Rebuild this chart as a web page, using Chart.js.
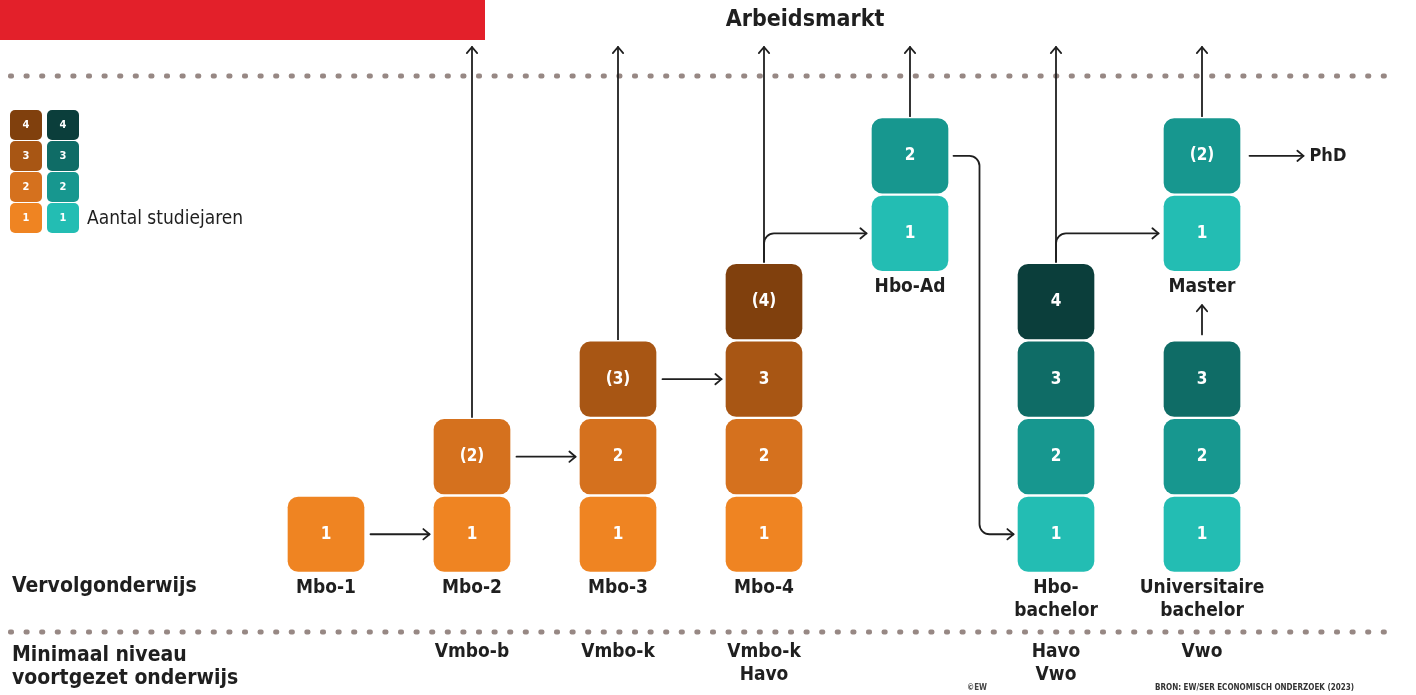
<!DOCTYPE html>
<html lang="nl">
<head>
  <meta charset="UTF-8" />
  <title>Van vmbo tot PhD</title>
  <script src="https://cdn.jsdelivr.net/npm/chart.js"></script>
  <style>
    html, body { margin: 0; padding: 0; background: #fff; }
    #wrap { position: relative; width: 1416px; height: 695px; }
  </style>
</head>
<body>
  <div id="wrap"><canvas id="grafiek"></canvas></div>

  <script>
    // === GEGEVENS ===
    const kolommen = ['Mbo-1', 'Mbo-2', 'Mbo-3', 'Mbo-4', 'Hbo-Ad', 'Hbo-bachelor', 'Universitaire bachelor'];
    const opleidingen = ['Mbo-1', 'Mbo-2', 'Mbo-3', 'Mbo-4', 'Hbo-Ad', 'Hbo-bachelor', 'Universitaire bachelor', 'Master'];
    const opleidingKolom = [0, 1, 2, 3, 4, 5, 6, 6];
    const startNiveau = [0, 0, 0, 0, 3.88, 0, 0, 3.88];
    const aantalJaren = [1, 2, 3, 4, 2, 4, 3, 2];
    const jaarLabels = [['1'], ['1', '(2)'], ['1', '2', '(3)'], ['1', '2', '3', '(4)'], ['1', '2'], ['1', '2', '3', '4'], ['1', '2', '3'], ['1', '(2)']];
    const soort = ['mbo', 'mbo', 'mbo', 'mbo', 'hbo', 'hbo', 'hbo', 'hbo'];
    const naamLabels = [['Mbo-1'], ['Mbo-2'], ['Mbo-3'], ['Mbo-4'], ['Hbo-Ad'], ['Hbo-', 'bachelor'], ['Universitaire', 'bachelor'], ['Master']];
    const vooropleiding = [[], ['Vmbo-b'], ['Vmbo-k'], ['Vmbo-k', 'Havo'], [], ['Havo', 'Vwo'], ['Vwo']];

    const kleuren = {
      mbo: ['#EF8422', '#D5711E', '#A85614', '#80400D'],
      hbo: ['#23BDB3', '#17978F', '#0F6C66', '#0B3E3B']
    };

    const FONT = "'Liberation Sans Narrow', 'DejaVu Sans Condensed', Roboto, sans-serif";
    const DONKER = '#1f1f1f';
    const HALF = 39.5; // halve blokbreedte

    // === DATASETS: één blok per studiejaar ===
    const datasets = [];
    opleidingen.forEach((opl, o) => {
      for (let j = 0; j < aantalJaren[o]; j++) {
        datasets.push({
          label: opl + ' jaar ' + (j + 1),
          data: [{ x: kolommen[opleidingKolom[o]], y: [startNiveau[o] + j, startNiveau[o] + j + 1] }],
          backgroundColor: kleuren[soort[o]][j],
          borderColor: '#ffffff',
          borderWidth: 1.5,
          borderRadius: 12,
          borderSkipped: false,
          barThickness: HALF * 2,
          tekst: jaarLabels[o][j]
        });
      }
    });

    function stippellijn(ctx, y) {
      ctx.save();
      ctx.fillStyle = '#978884';
      for (let x = 8; x < 1390; x += 15.6) {
        ctx.beginPath();
        ctx.roundRect(x, y - 2.5, 6, 5, 2);
        ctx.fill();
      }
      ctx.restore();
    }

    function pijl(ctx, punten, r = 10) {
      ctx.save();
      ctx.strokeStyle = DONKER;
      ctx.lineWidth = 1.8;
      ctx.lineCap = 'round';
      ctx.lineJoin = 'round';
      ctx.beginPath();
      ctx.moveTo(punten[0][0], punten[0][1]);
      for (let i = 1; i < punten.length - 1; i++) {
        ctx.arcTo(punten[i][0], punten[i][1], punten[i + 1][0], punten[i + 1][1], r);
      }
      const eind = punten[punten.length - 1];
      const vorig = punten[punten.length - 2];
      ctx.lineTo(eind[0], eind[1]);
      ctx.stroke();
      // pijlpunt
      const hoek = Math.atan2(eind[1] - vorig[1], eind[0] - vorig[0]);
      const l = 8;
      ctx.beginPath();
      ctx.moveTo(eind[0] - l * Math.cos(hoek - 0.7), eind[1] - l * Math.sin(hoek - 0.7));
      ctx.lineTo(eind[0], eind[1]);
      ctx.lineTo(eind[0] - l * Math.cos(hoek + 0.7), eind[1] - l * Math.sin(hoek + 0.7));
      ctx.stroke();
      ctx.restore();
    }

    function tekst(ctx, t, x, y, size, weight, align = 'center', kleur = DONKER) {
      ctx.save();
      ctx.font = `${weight} ${size}px ${FONT}`;
      ctx.fillStyle = kleur;
      ctx.textAlign = align;
      ctx.textBaseline = 'middle';
      ctx.fillText(t, x, y);
      ctx.restore();
    }

    const achtergrond = {
      id: 'achtergrond',
      beforeDraw(chart) {
        const ctx = chart.ctx;
        ctx.save();
        ctx.fillStyle = '#fff';
        ctx.fillRect(0, 0, chart.width, chart.height);
        ctx.fillStyle = '#E3202A';
        ctx.fillRect(0, 0, 485, 40);
        ctx.restore();
        stippellijn(ctx, 76);
        stippellijn(ctx, 632);

        const xs = i => chart.scales.x.getPixelForValue(i);
        const yv = v => chart.scales.y.getPixelForValue(v);
        const top = 47;

        // horizontale overstappen mbo
        pijl(ctx, [[xs(0) + HALF + 5, yv(0.5)], [xs(1) - HALF - 3, yv(0.5)]]);
        pijl(ctx, [[xs(1) + HALF + 5, yv(1.5)], [xs(2) - HALF - 3, yv(1.5)]]);
        pijl(ctx, [[xs(2) + HALF + 5, yv(2.5)], [xs(3) - HALF - 3, yv(2.5)]]);

        // naar de arbeidsmarkt
        [[1, 2], [2, 3], [3, 4], [4, startNiveau[4] + 2], [5, 4], [6, startNiveau[7] + 2]].forEach(([k, v]) => {
          pijl(ctx, [[xs(k), yv(v)], [xs(k), top]]);
        });

        // Mbo-4 -> Hbo-Ad en Hbo-bachelor -> Master
        const takY = yv(startNiveau[4] + 0.5);
        pijl(ctx, [[xs(3), yv(4)], [xs(3), takY], [xs(4) - HALF - 4, takY]]);
        pijl(ctx, [[xs(5), yv(4)], [xs(5), takY], [xs(6) - HALF - 4, takY]]);

        // Hbo-Ad -> Hbo-bachelor
        const bochtX = xs(4) + HALF + 30;
        pijl(ctx, [[xs(4) + HALF + 4, yv(startNiveau[4] + 1.5)], [bochtX, yv(startNiveau[4] + 1.5)],
                   [bochtX, yv(0.5)], [xs(5) - HALF - 3, yv(0.5)]]);

        // Universitaire bachelor -> Master
        pijl(ctx, [[xs(6), yv(3) - 6], [xs(6), yv(startNiveau[7]) + 33]]);

        // Master -> PhD
        pijl(ctx, [[xs(6) + HALF + 8, yv(startNiveau[7] + 1.5)], [xs(6) + HALF + 62, yv(startNiveau[7] + 1.5)]]);
      }
    };

    const teksten = {
      id: 'teksten',
      afterDatasetsDraw(chart) {
        const ctx = chart.ctx;
        const xs = i => chart.scales.x.getPixelForValue(i);
        const yv = v => chart.scales.y.getPixelForValue(v);

        // cijfers in de blokken
        chart.data.datasets.forEach((ds, i) => {
          const el = chart.getDatasetMeta(i).data[0];
          if (!el) return;
          tekst(ctx, ds.tekst, el.x, (el.y + el.base) / 2, 17, 'bold', 'center', '#ffffff');
        });

        // namen onder de blokken
        opleidingen.forEach((opl, o) => {
          const yb = yv(startNiveau[o]) + 15;
          naamLabels[o].forEach((r, n) => tekst(ctx, r, xs(opleidingKolom[o]), yb + n * 23, 19, 'bold'));
        });

        // vooropleiding
        vooropleiding.forEach((rijen, k) => {
          rijen.forEach((r, n) => tekst(ctx, r, xs(k), 652 + n * 23, 19, 'bold'));
        });

        tekst(ctx, 'Arbeidsmarkt', 805, 20, 23, 'bold');
        tekst(ctx, 'Vervolgonderwijs', 12, 587, 21, 'bold', 'left');
        tekst(ctx, 'Minimaal niveau', 12, 656, 21, 'bold', 'left');
        tekst(ctx, 'voortgezet onderwijs', 12, 679, 21, 'bold', 'left');
        tekst(ctx, 'PhD', xs(6) + HALF + 68, yv(startNiveau[7] + 1.5), 18, 'bold', 'left');
        tekst(ctx, '©EW', 967, 688, 8, 'bold', 'left', '#444');
        tekst(ctx, 'BRON: EW/SER ECONOMISCH ONDERZOEK (2023)', 1155, 688, 8, 'bold', 'left', '#333');

        // legenda
        for (let j = 0; j < 4; j++) {
          const y = 203 - j * 31;
          [['mbo', 10], ['hbo', 47]].forEach(([s, x]) => {
            ctx.save();
            ctx.fillStyle = kleuren[s][j];
            ctx.beginPath();
            ctx.roundRect(x, y, 32, 30, 5);
            ctx.fill();
            ctx.restore();
            tekst(ctx, String(j + 1), x + 16, y + 15, 11, 'bold', 'center', '#ffffff');
          });
        }
        tekst(ctx, 'Aantal studiejaren', 87, 219, 19, 'normal', 'left');
      }
    };

    new Chart(document.getElementById('grafiek'), {
      type: 'bar',
      data: { labels: kolommen, datasets },
      options: {
        responsive: true,
        maintainAspectRatio: false,
        animation: false,
        layout: { padding: { left: 253, right: 141, top: 69, bottom: 122 } },
        plugins: { legend: { display: false }, tooltip: { enabled: false } },
        scales: {
          x: { type: 'category', display: false, stacked: true, offset: true },
          y: { min: 0, max: 6.5, display: false, stacked: false }
        }
      },
      plugins: [achtergrond, teksten]
    });
  </script>
</body>
</html>
